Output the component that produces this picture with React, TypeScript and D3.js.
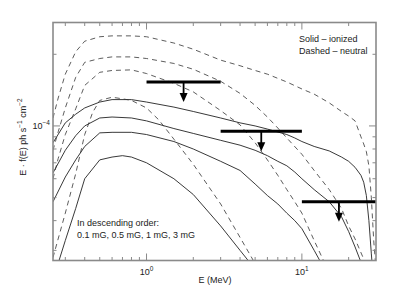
import React from "react";
import * as d3 from "d3";

// photon spectra E*f(E) [ph s^-1 cm^-2] vs E [MeV]
const ionized01 = [
  [0.25, 8.5e-5], [0.3, 1.03e-4], [0.35, 1.12e-4], [0.4, 1.19e-4], [0.5, 1.26e-4],
  [0.6, 1.29e-4], [0.8, 1.29e-4], [1, 1.26e-4], [1.5, 1.2e-4], [2, 1.15e-4],
  [3, 1.08e-4], [4, 1.03e-4], [5, 1.0e-4], [6, 9.7e-5], [8, 9.2e-5], [9, 8.9e-5],
  [10, 8.6e-5], [12, 8.2e-5], [15, 7.85e-5], [18, 7.4e-5], [20, 7.1e-5],
  [22, 6.7e-5], [24, 6.2e-5], [25, 5.8e-5], [26, 5.1e-5], [27, 4.0e-5],
  [28, 2.9e-5], [28.5, 2.5e-5],
];
const ionized05 = [
  [0.25, 6.35e-5], [0.3, 7.9e-5], [0.35, 9.1e-5], [0.4, 1.0e-4], [0.5, 1.08e-4],
  [0.6, 1.09e-4], [0.8, 1.08e-4], [1, 1.05e-4], [1.5, 9.75e-5], [2, 9.3e-5],
  [3, 8.7e-5], [4, 8.3e-5], [5, 7.9e-5], [6, 7.5e-5], [7, 7.1e-5], [8, 6.8e-5],
  [9, 6.4e-5], [10, 6.0e-5], [12, 5.4e-5], [15, 4.8e-5], [18, 4.15e-5],
  [20, 3.6e-5], [22, 3.1e-5], [25, 2.5e-5],
];
const ionized1 = [
  [0.25, 4.8e-5], [0.3, 6.1e-5], [0.35, 7.2e-5], [0.4, 8.2e-5], [0.5, 9.35e-5],
  [0.6, 9.4e-5], [0.8, 9.4e-5], [1, 9.2e-5], [1.5, 8.6e-5], [2, 8.0e-5],
  [3, 7.1e-5], [4, 6.5e-5], [5, 5.7e-5], [6, 5.1e-5], [7, 4.7e-5], [8, 4.3e-5],
  [9, 4.0e-5], [10, 3.7e-5], [12, 3.0e-5], [14, 2.5e-5],
];
const ionized3 = [
  [0.26, 2.45e-5], [0.3, 3.3e-5], [0.35, 4.5e-5], [0.4, 6.0e-5], [0.5, 7.2e-5],
  [0.6, 7.4e-5], [0.7, 7.5e-5], [0.8, 7.4e-5], [1, 7.0e-5], [1.5, 6.0e-5],
  [2, 5.15e-5], [3, 3.8e-5], [4, 3.0e-5], [5, 2.5e-5],
];
const neutral01 = [
  [0.25, 1.08e-4], [0.27, 1.31e-4], [0.3, 1.65e-4], [0.35, 2.05e-4], [0.4, 2.27e-4],
  [0.5, 2.37e-4], [0.6, 2.39e-4], [0.8, 2.39e-4], [1, 2.37e-4], [1.5, 2.23e-4],
  [2, 2.1e-4], [3, 1.89e-4], [4, 1.79e-4], [5, 1.71e-4], [6, 1.65e-4],
  [8, 1.53e-4], [10, 1.43e-4], [12, 1.36e-4], [15, 1.25e-4], [18, 1.15e-4],
  [20, 1.1e-4], [22, 1.05e-4], [24, 9.0e-5], [25, 8.4e-5], [26, 7.8e-5],
  [27, 6.8e-5], [28, 5.0e-5], [29, 3.3e-5], [30, 2.5e-5],
];
const neutral05 = [
  [0.25, 7.9e-5], [0.27, 9.45e-5], [0.3, 1.19e-4], [0.35, 1.6e-4], [0.4, 1.85e-4],
  [0.5, 1.92e-4], [0.6, 1.95e-4], [0.8, 1.95e-4], [1, 1.92e-4], [1.5, 1.83e-4],
  [2, 1.73e-4], [3, 1.54e-4], [4, 1.37e-4], [5, 1.22e-4], [6, 1.09e-4],
  [7, 9.8e-5], [8, 8.9e-5], [10, 7.6e-5], [12, 6.5e-5], [15, 5.4e-5],
  [18, 4.5e-5], [20, 3.8e-5], [22, 3.35e-5], [25, 2.76e-5], [26, 2.5e-5],
];
const neutral1 = [
  [0.25, 6.0e-5], [0.27, 7.3e-5], [0.3, 9.2e-5], [0.35, 1.18e-4], [0.4, 1.48e-4],
  [0.5, 1.68e-4], [0.6, 1.71e-4], [0.8, 1.72e-4], [1, 1.66e-4], [1.5, 1.51e-4],
  [2, 1.39e-4], [3, 1.16e-4], [4, 1.01e-4], [5, 8.5e-5], [6, 7.2e-5],
  [7, 6.2e-5], [8, 5.4e-5], [9, 4.8e-5], [10, 4.3e-5], [12, 3.3e-5],
  [14, 2.66e-5], [15, 2.4e-5],
];
const neutral3 = [
  [0.25, 2.8e-5], [0.3, 4.3e-5], [0.35, 6.3e-5], [0.4, 9.2e-5], [0.45, 1.14e-4],
  [0.5, 1.28e-4], [0.6, 1.32e-4], [0.7, 1.3e-4], [0.8, 1.28e-4], [1, 1.19e-4],
  [1.2, 1.06e-4], [1.5, 8.8e-5], [2, 6.9e-5], [3, 4.7e-5], [4, 3.4e-5],
  [5, 2.64e-5], [5.3, 2.5e-5],
];

// upper limits: [Emin, Emax, flux]
const upperLimits = [
  [1, 3, 1.53e-4],
  [3, 10, 9.5e-5],
  [10, 30, 4.8e-5],
];

const xMajor = [1, 10];
const xMinor = [0.3, 0.4, 0.5, 0.6, 0.7, 0.8, 0.9, 2, 3, 4, 5, 6, 7, 8, 9, 20];
const yMajor = [1e-4];
const yMinor = [3e-5, 4e-5, 5e-5, 6e-5, 7e-5, 8e-5, 9e-5, 2e-4];

const W = 415;
const H = 294;
const margin = { top: 22.5, right: 39, bottom: 33.5, left: 53 };
const font = "'Liberation Sans', Arial, Helvetica, sans-serif";
const frameColor = "#8a8a8a";

const App = () => {
  const x = d3
    .scaleLog()
    .domain([0.25, 30])
    .range([margin.left, W - margin.right]);
  const y = d3
    .scaleLog()
    .domain([2.72e-5, 2.72e-4])
    .range([H - margin.bottom, margin.top]);

  const line = d3
    .line()
    .x((d) => x(d[0]))
    .y((d) => y(d[1]));

  const solid = [ionized01, ionized05, ionized1, ionized3];
  const dashed = [neutral01, neutral05, neutral1, neutral3];

  const x0 = margin.left;
  const x1 = W - margin.right;
  const y0 = H - margin.bottom;
  const y1 = margin.top;

  return (
    <svg
      width={W}
      height={H}
      style={{ position: "absolute", left: 0, top: 0, background: "#fff" }}
      fontFamily={font}
    >
      <defs>
        <clipPath id="plotArea">
          <rect x={x0} y={y1} width={x1 - x0} height={y0 - y1} />
        </clipPath>
      </defs>

      <g clipPath="url(#plotArea)" fill="none">
        {solid.map((s, i) => (
          <path key={"s" + i} d={line(s)} stroke="#222" strokeWidth={0.9} />
        ))}
        {dashed.map((s, i) => (
          <path
            key={"d" + i}
            d={line(s)}
            stroke="#333"
            strokeWidth={0.8}
            strokeDasharray="5,4"
          />
        ))}
      </g>

      {upperLimits.map(([a, b, f], i) => {
        const cx = x(Math.sqrt(a * b));
        const cy = y(f);
        return (
          <g key={"ul" + i}>
            <line x1={x(a)} x2={x(b)} y1={cy} y2={cy} stroke="#000" strokeWidth={3} />
            <line x1={cx} x2={cx} y1={cy} y2={cy + 13} stroke="#000" strokeWidth={1.8} />
            <path
              d={`M${cx - 4},${cy + 11} L${cx + 4},${cy + 11} L${cx},${cy + 20} Z`}
              fill="#000"
            />
          </g>
        );
      })}

      {/* frame */}
      <rect
        x={x0}
        y={y1}
        width={x1 - x0}
        height={y0 - y1}
        fill="none"
        stroke={frameColor}
        strokeWidth={1.6}
      />

      {/* ticks on all four sides */}
      <g stroke={frameColor} strokeWidth={1}>
        {xMajor.map((v) => (
          <g key={"xm" + v}>
            <line x1={x(v)} x2={x(v)} y1={y0} y2={y0 - 7} />
            <line x1={x(v)} x2={x(v)} y1={y1} y2={y1 + 7} />
          </g>
        ))}
        {xMinor.map((v) => (
          <g key={"xn" + v}>
            <line x1={x(v)} x2={x(v)} y1={y0} y2={y0 - 3.5} />
            <line x1={x(v)} x2={x(v)} y1={y1} y2={y1 + 3.5} />
          </g>
        ))}
        {yMajor.map((v) => (
          <g key={"ym" + v}>
            <line x1={x0} x2={x0 + 7} y1={y(v)} y2={y(v)} />
            <line x1={x1} x2={x1 - 7} y1={y(v)} y2={y(v)} />
          </g>
        ))}
        {yMinor.map((v) => (
          <g key={"yn" + v}>
            <line x1={x0} x2={x0 + 3.5} y1={y(v)} y2={y(v)} />
            <line x1={x1} x2={x1 - 3.5} y1={y(v)} y2={y(v)} />
          </g>
        ))}
      </g>

      {/* tick labels */}
      <g fontSize={9} fill="#222">
        {xMajor.map((v) => (
          <text key={"xl" + v} x={x(v)} y={y0 + 14} textAnchor="middle">
            10
            <tspan dy={-4} fontSize={6.5}>
              {Math.round(Math.log10(v))}
            </tspan>
          </text>
        ))}
        {yMajor.map((v) => (
          <text key={"yl" + v} x={x0 - 3} y={y(v) + 3} textAnchor="end">
            10
            <tspan dy={-4} fontSize={6.5}>
              {"\u2212" + Math.abs(Math.round(Math.log10(v)))}
            </tspan>
          </text>
        ))}
      </g>

      {/* axis titles */}
      <text x={215} y={283} fontSize={9} fill="#222" textAnchor="middle">
        E (MeV)
      </text>
      <text
        transform="translate(26,137) rotate(-90)"
        fontSize={9}
        fill="#222"
        textAnchor="middle"
      >
        E · f(E) ph s
        <tspan dy={-4} fontSize={6.5}>−1</tspan>
        <tspan dy={4}> cm</tspan>
        <tspan dy={-4} fontSize={6.5}>−2</tspan>
      </text>

      {/* legend */}
      <g fontSize={9} fill="#222">
        <text x={299} y={42}>Solid – ionized</text>
        <text x={299} y={54}>Dashed – neutral</text>
        <text x={77} y={226}>In descending order:</text>
        <text x={77} y={238}>0.1 mG, 0.5 mG, 1 mG, 3 mG</text>
      </g>
    </svg>
  );
};

export default App;
